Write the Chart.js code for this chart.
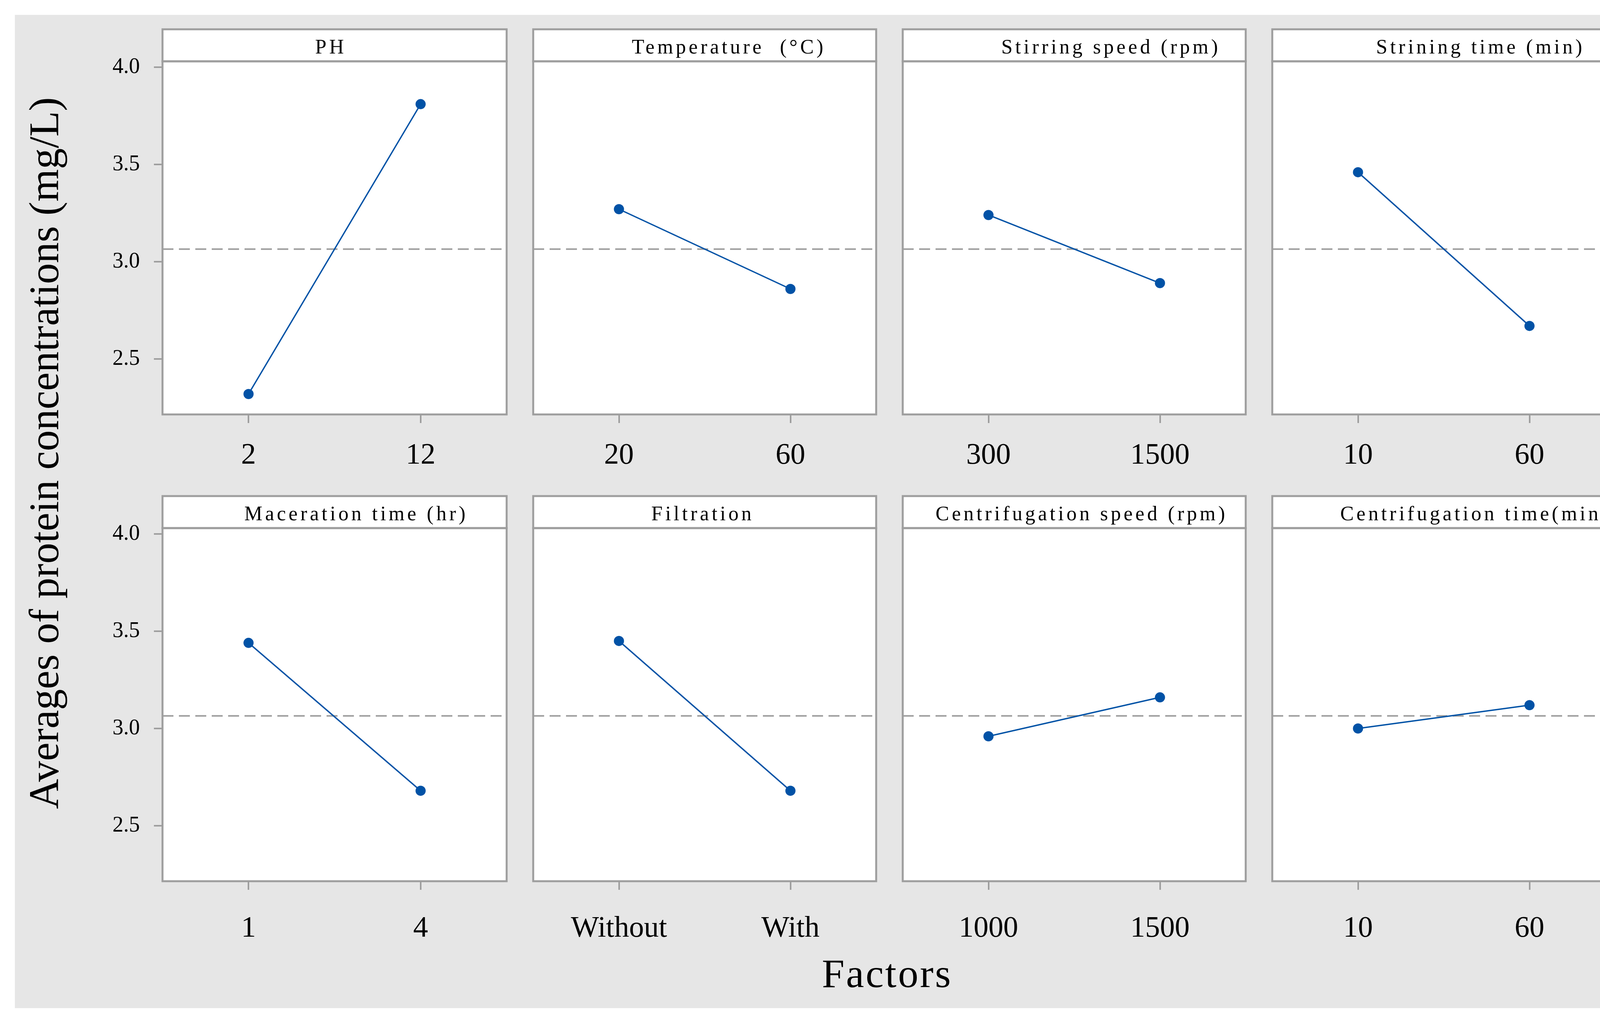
<!DOCTYPE html>
<html>
<head>
<meta charset="utf-8">
<script src="https://cdn.jsdelivr.net/npm/chart.js@4.4.1/dist/chart.umd.min.js"></script>
<style>
  html, body { margin: 0; padding: 0; background: #fff; }
  #page { position: relative; width: 4216px; height: 2619px; overflow: hidden; background: #fff; }
  #bg { position: absolute; left: 38px; top: 38px; width: 4148px; height: 2543px; background: #e6e6e6; }
  canvas { position: absolute; }
  .head {
    position: absolute; font-family: 'Liberation Serif', 'DejaVu Serif', serif;
    font-size: 52px; letter-spacing: 7px; color: #000; white-space: pre;
    transform: translateX(-50%); box-sizing: border-box;
  }
  .axisTitle {
    position: absolute; font-family: 'Liberation Serif', 'DejaVu Serif', serif;
    color: #000; white-space: nowrap; line-height: 1;
  }
</style>
</head>
<body>
<div id="page">
  <div id="bg"></div>
  <div class="axisTitle" id="yTitle" style="left:113px;top:1160px;font-size:107px;transform:translate(-50%,-50%) rotate(-90deg);">Averages of protein concentrations (mg/L)</div>
  <div class="axisTitle" id="xTitle" style="left:2271px;top:2492px;font-size:104px;letter-spacing:4px;transform:translate(-50%,-50%);">Factors</div>
</div>
<script>
// factor names, levels and level means (main effects)
const factors = ['PH', 'Temperature  (°C)', 'Stirring speed (rpm)', 'Strining time (min)',
  'Maceration time (hr)', 'Filtration', 'Centrifugation speed (rpm)', 'Centrifugation time(min)'];
const levels = [['2', '12'], ['20', '60'], ['300', '1500'], ['10', '60'],
  ['1', '4'], ['Without', 'With'], ['1000', '1500'], ['10', '60']];
const means = [[2.32, 3.81], [3.27, 2.86], [3.24, 2.89], [3.46, 2.67],
  [3.44, 2.68], [3.45, 2.68], [2.96, 3.16], [3.00, 3.12]];
const grandMean = 3.065;
const yTicks = [2.5, 3.0, 3.5, 4.0];
const yMin = 2.215, yMax = 4.03;

// layout
const panelLeft = [416, 1362, 2308, 3254];
const panelW = 884;
const rowTop = [75, 1270];
const headH = 82, plotH = 904;
const yAxisW = 140, pad = 10, xAxisH = 170;
const titleShift = [-11, 62, 94, 94, 54, -5, 19, 81];
const xTickPad = [38, 54];

const SERIF = "'Liberation Serif', 'DejaVu Serif', serif";
const BLUE = '#0152a6';
const GRAY = '#9e9e9e';

const page = document.getElementById('page');

const panelPlugin = {
  id: 'panelFrame',
  beforeDraw(chart) {
    const { ctx, chartArea: a } = chart;
    ctx.save();
    ctx.fillStyle = '#fff';
    ctx.fillRect(a.left, a.top - headH, a.right - a.left, headH);
    ctx.fillRect(a.left, a.top, a.right - a.left, a.bottom - a.top);
    ctx.strokeStyle = GRAY;
    ctx.lineWidth = 5;
    ctx.strokeRect(a.left, a.top - headH, a.right - a.left, headH);
    ctx.strokeRect(a.left, a.top, a.right - a.left, a.bottom - a.top);
    ctx.restore();
  },
  beforeDatasetsDraw(chart) {
    const { ctx, chartArea: a } = chart;
    const y = chart.scales.y.getPixelForValue(grandMean);
    ctx.save();
    ctx.strokeStyle = GRAY;
    ctx.lineWidth = 4;
    ctx.setLineDash([28, 14]);
    ctx.beginPath();
    ctx.moveTo(a.left, y);
    ctx.lineTo(a.right, y);
    ctx.stroke();
    ctx.restore();
  }
};

factors.forEach((name, i) => {
  const col = i % 4, row = Math.floor(i / 4);
  const yw = col === 0 ? yAxisW : 0;
  const cw = pad + yw + panelW + pad;
  const ch = pad + headH + plotH + xAxisH;

  const canvas = document.createElement('canvas');
  canvas.width = cw;
  canvas.height = ch;
  canvas.style.width = cw + 'px';
  canvas.style.height = ch + 'px';
  canvas.style.left = (panelLeft[col] - pad - yw) + 'px';
  canvas.style.top = (rowTop[row] - pad) + 'px';
  page.appendChild(canvas);

  const head = document.createElement('div');
  head.className = 'head';
  head.textContent = name;
  head.style.left = (panelLeft[col] + panelW / 2 + titleShift[i]) + 'px';
  head.style.top = rowTop[row] + 'px';
  head.style.height = headH + 'px';
  head.style.lineHeight = headH + 'px';
  head.style.paddingTop = '4px';
  page.appendChild(head);

  new Chart(canvas.getContext('2d'), {
    type: 'line',
    data: {
      labels: levels[i],
      datasets: [{
        data: means[i],
        borderColor: BLUE,
        borderWidth: 3.5,
        pointRadius: 13,
        pointHoverRadius: 13,
        pointBackgroundColor: BLUE,
        pointBorderWidth: 0,
        tension: 0
      }]
    },
    options: {
      responsive: false,
      animation: false,
      devicePixelRatio: 1,
      layout: { padding: { left: pad, right: pad, top: pad + headH, bottom: 0 } },
      plugins: { legend: { display: false }, tooltip: { enabled: false } },
      scales: {
        x: {
          type: 'category',
          offset: true,
          afterFit: s => { s.height = xAxisH; },
          grid: { drawOnChartArea: false, drawTicks: true, tickLength: 22, color: GRAY, lineWidth: 4 },
          border: { display: false },
          ticks: { color: '#000', font: { family: SERIF, size: 76 }, padding: xTickPad[row], maxRotation: 0, autoSkip: false }
        },
        y: {
          type: 'linear',
          display: col === 0,
          min: yMin,
          max: yMax,
          afterFit: s => { if (col === 0) s.width = yAxisW; },
          afterBuildTicks: s => { s.ticks = yTicks.map(v => ({ value: v })); },
          grid: { drawOnChartArea: false, drawTicks: true, tickLength: 22, color: GRAY, lineWidth: 4 },
          border: { display: false },
          ticks: { color: '#000', font: { family: SERIF, size: 56 }, padding: 36, callback: v => Number(v).toFixed(1) }
        }
      }
    },
    plugins: [panelPlugin]
  });
});
</script>
</body>
</html>
